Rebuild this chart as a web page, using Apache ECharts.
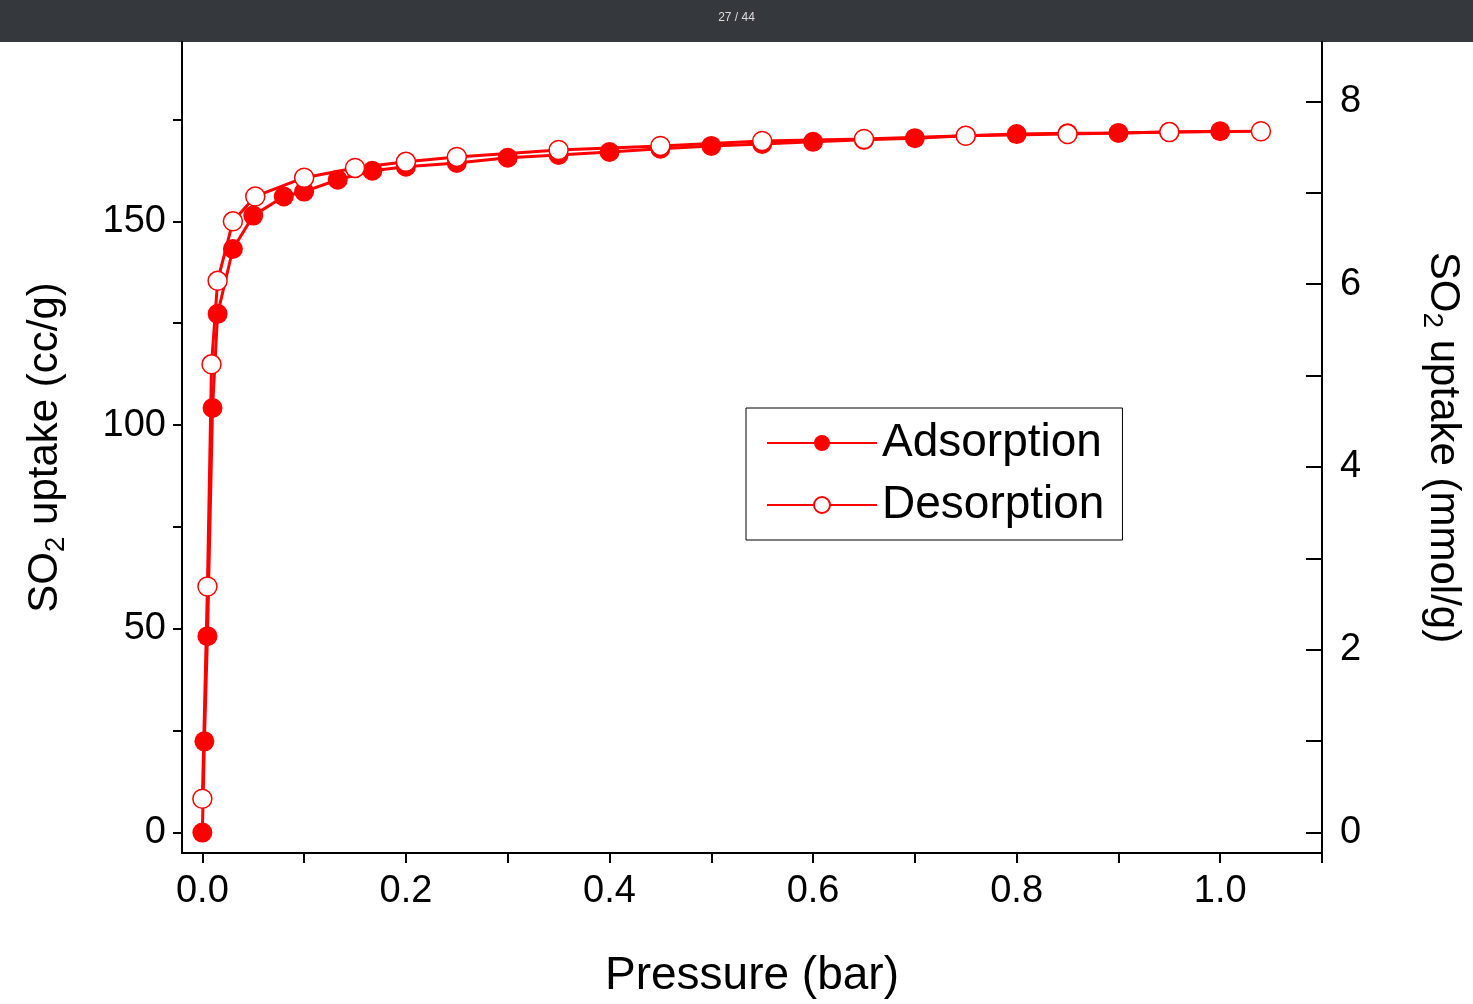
<!DOCTYPE html>
<html>
<head>
<meta charset="utf-8">
<script src="https://cdn.jsdelivr.net/npm/echarts@6/dist/echarts.min.js"></script>
<style>html,body{margin:0;padding:0;background:#fff}#main{width:1473px;height:1004px}</style>
</head>
<body>
<div id="main"></div>
<script>
// adsorption branch
const adsP = [0, 0.002, 0.005, 0.01, 0.015, 0.03, 0.05, 0.08, 0.1, 0.133, 0.167, 0.2, 0.25, 0.3, 0.35, 0.4, 0.45, 0.5, 0.55, 0.6, 0.65, 0.7, 0.75, 0.8, 0.85, 0.9, 0.95, 1.0];
const adsV = [0, 22.4, 48.2, 104.2, 127.3, 143.2, 151.4, 156.1, 157.3, 160.2, 162.4, 163.4, 164.3, 165.6, 166.3, 167.0, 167.8, 168.5, 169.0, 169.5, 170.0, 170.4, 171.0, 171.4, 171.6, 171.7, 171.9, 172.1];
// desorption branch
const desP = [1.04, 0.95, 0.85, 0.75, 0.65, 0.55, 0.45, 0.35, 0.25, 0.2, 0.15, 0.1, 0.052, 0.03, 0.015, 0.009, 0.005, 0];
const desV = [172.1, 171.9, 171.4, 171.0, 170.2, 169.7, 168.5, 167.5, 165.8, 164.6, 163.1, 160.7, 156.1, 150.0, 135.4, 114.9, 60.4, 8.3];
const xTicks = [0, 0.1, 0.2, 0.3, 0.4, 0.5, 0.6, 0.7, 0.8, 0.9, 1.0, 1.1];
const xLabels = [0, 0.2, 0.4, 0.6, 0.8, 1.0];
const ccPerMmol = 22.43;

const chart = echarts.init(document.getElementById('main'));
const font = '"Liberation Sans", Arial, sans-serif';
const axisLine = { show: true, onZero: false, lineStyle: { color: '#000', width: 2 } };
const nameRich = { n: { fontSize: 42, fontFamily: font, color: '#000' }, s: { fontSize: 28, fontFamily: font, color: '#000', padding: [22, 0, 0, 0] } };
const leftMin = -5, leftMax = 194;

chart.setOption({
  animation: false,
  graphic: [
    { type: 'rect', left: 0, top: 0, shape: { width: 1473, height: 42 }, style: { fill: '#35383c' } },
    { type: 'text', left: 'center', top: 12, style: { text: '27 / 44', fill: '#ddd', fontSize: 12, fontFamily: font } }
  ],
  grid: { left: 182, right: 151, top: 42, bottom: 144 },
  legend: {
    left: 746, top: 408, orient: 'vertical', padding: [12, 18, 12, 20], itemGap: 16,
    borderColor: '#000', borderWidth: 1, backgroundColor: '#fff',
    itemWidth: 110, itemHeight: 20,
    textStyle: { fontSize: 46, fontFamily: font, color: '#000' },
    data: ['Adsorption', 'Desorption']
  },
  xAxis: {
    type: 'value', min: -0.02, max: 1.1,
    axisLine: axisLine, splitLine: { show: false },
    axisTick: { show: true, length: 10, lineStyle: { width: 2, color: '#000' }, customValues: xTicks },
    axisLabel: {
      fontSize: 38, fontFamily: font, color: '#000', margin: 20,
      customValues: xLabels, formatter: v => v.toFixed(1)
    },
    name: 'Pressure (bar)', nameLocation: 'middle', nameGap: 100,
    nameTextStyle: { fontSize: 46, fontFamily: font, color: '#000' }
  },
  yAxis: [
    {
      type: 'value', min: leftMin, max: leftMax, position: 'left',
      axisLine: axisLine, splitLine: { show: false },
      axisTick: { show: true, length: 9, lineStyle: { width: 2, color: '#000' }, customValues: [0, 25, 50, 75, 100, 125, 150, 175] },
      axisLabel: { fontSize: 38, fontFamily: font, color: '#000', margin: 16, customValues: [0, 50, 100, 150] },
      name: '{n|SO}{s|2}{n| uptake (cc/g)}', nameLocation: 'middle', nameGap: 112, nameRotate: 90,
      nameTextStyle: { rich: nameRich }
    },
    {
      type: 'value', min: leftMin / ccPerMmol, max: leftMax / ccPerMmol, position: 'right',
      axisLine: axisLine, splitLine: { show: false },
      axisTick: { show: true, inside: true, length: 16, lineStyle: { width: 2, color: '#000' }, customValues: [0, 1, 2, 3, 4, 5, 6, 7, 8] },
      axisLabel: { fontSize: 38, fontFamily: font, color: '#000', margin: 18, customValues: [0, 2, 4, 6, 8] },
      name: '{n|SO}{s|2}{n| uptake (mmol/g)}', nameLocation: 'middle', nameGap: 96, nameRotate: -90,
      nameTextStyle: { rich: nameRich }
    }
  ],
  series: [
    {
      name: 'Adsorption', type: 'line', symbol: 'circle', symbolSize: 20,
      lineStyle: { color: '#ff0000', width: 3 }, itemStyle: { color: '#ff0000' },
      data: adsP.map((p, i) => [p, adsV[i]])
    },
    {
      name: 'Desorption', type: 'line', symbol: 'circle', symbolSize: 19,
      lineStyle: { color: '#ff0000', width: 3 },
      itemStyle: { color: '#fff', borderColor: '#ff0000', borderWidth: 1.5 },
      data: desP.map((p, i) => [p, desV[i]])
    }
  ]
});
</script>
</body>
</html>
